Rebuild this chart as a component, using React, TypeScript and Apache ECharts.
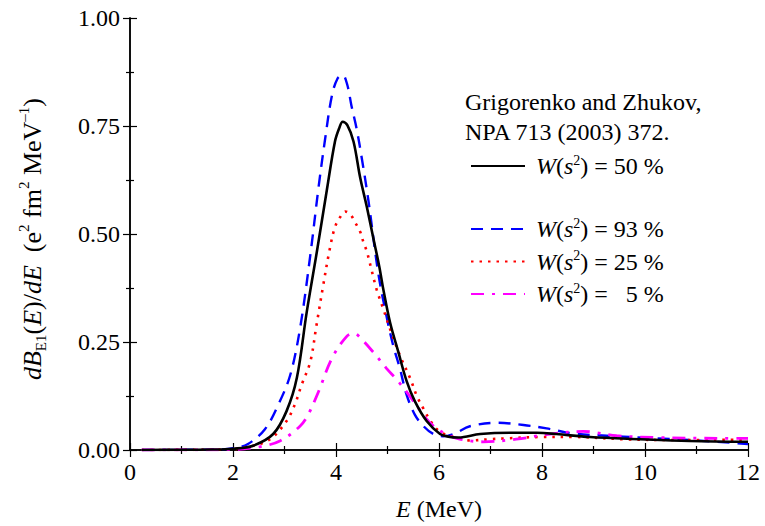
import React, { useEffect, useRef } from "react";
import * as echarts from "echarts";

// Energy (MeV), dB/dE values
const w50: [number, number][] = [
  [0.23, 0], [1.0, 0.0005], [1.6, 0.001], [2.0, 0.003], [2.39, 0.01], [2.78, 0.037], [3.04, 0.09],
  [3.24, 0.167], [3.43, 0.318], [3.63, 0.46], [3.82, 0.6], [3.98, 0.714], [4.06, 0.744], [4.13, 0.76],
  [4.22, 0.752], [4.34, 0.714], [4.47, 0.63], [4.6, 0.562], [4.72, 0.493], [4.84, 0.425], [4.92, 0.371],
  [5.05, 0.295], [5.21, 0.227], [5.37, 0.16], [5.53, 0.113], [5.76, 0.067], [6.02, 0.037], [6.18, 0.031],
  [6.38, 0.029], [6.8, 0.037], [7.44, 0.04], [7.9, 0.04], [8.28, 0.037], [8.93, 0.03], [9.9, 0.025],
  [10.87, 0.021], [12, 0.019],
];
const w93: [number, number][] = [
  [0.23, 0], [1.0, 0.0005], [1.6, 0.001], [2.0, 0.004], [2.29, 0.014], [2.62, 0.048], [2.88, 0.105],
  [3.11, 0.173], [3.3, 0.28], [3.5, 0.45], [3.66, 0.607], [3.79, 0.721], [3.92, 0.82], [4.03, 0.86],
  [4.13, 0.868], [4.22, 0.845], [4.3, 0.797], [4.4, 0.744], [4.5, 0.676], [4.63, 0.577], [4.82, 0.41],
  [4.98, 0.31], [5.11, 0.242], [5.24, 0.189], [5.37, 0.128], [5.53, 0.082], [5.7, 0.055], [5.89, 0.037],
  [6.08, 0.032], [6.3, 0.038], [6.6, 0.055], [7.12, 0.063], [7.64, 0.058], [8.09, 0.05], [8.61, 0.038],
  [9.26, 0.033], [10.23, 0.027], [11.0, 0.022], [12, 0.014],
];
const w25: [number, number][] = [
  [0.23, 0], [1.0, 0.0003], [1.8, 0.001], [2.33, 0.008], [2.72, 0.025], [3.04, 0.067], [3.2, 0.105],
  [3.33, 0.15], [3.5, 0.204], [3.62, 0.288], [3.75, 0.38], [3.88, 0.466], [3.98, 0.516], [4.08, 0.539],
  [4.18, 0.552], [4.28, 0.545], [4.37, 0.527], [4.47, 0.505], [4.53, 0.482], [4.6, 0.459], [4.69, 0.417],
  [4.79, 0.371], [4.92, 0.326], [5.05, 0.28], [5.24, 0.219], [5.44, 0.166], [5.57, 0.125], [5.7, 0.095],
  [5.83, 0.068], [5.96, 0.048], [6.1, 0.037], [6.34, 0.029], [6.6, 0.022], [6.99, 0.025], [7.31, 0.027],
  [7.96, 0.03], [8.61, 0.03], [9.58, 0.025], [10.55, 0.023], [12, 0.024],
];
const w5: [number, number][] = [
  [0.23, 0], [1.0, 0.0002], [2.0, 0.001], [2.52, 0.0075], [2.91, 0.021], [3.3, 0.055], [3.46, 0.082],
  [3.66, 0.135], [3.92, 0.212], [4.2, 0.262], [4.35, 0.27], [4.43, 0.265], [4.72, 0.227], [4.98, 0.189],
  [5.2, 0.16], [5.4, 0.13], [5.6, 0.097], [5.8, 0.066], [6.0, 0.046], [6.2, 0.033], [6.4, 0.025],
  [6.86, 0.019], [7.5, 0.025], [8.16, 0.037], [8.8, 0.043], [9.45, 0.033], [10.23, 0.029], [11.52, 0.027],
  [12, 0.027],
];

const seriesNames = ["50", "93", "25", "5"];
const seriesColors = ["#000000", "#0000ff", "#ff0000", "#ff00ff"];
const noteLines = ["Grigorenko and Zhukov,", "NPA 713 (2003) 372."];
const yTicks = [0, 0.25, 0.5, 0.75, 1.0];

const FONT = "Liberation Serif";

export default function App() {
  const ref = useRef<HTMLDivElement>(null);
  useEffect(() => {
    if (!ref.current) return;
    const chart = echarts.init(ref.current, null, { renderer: "svg" });
    const axisCommon = {
      axisLine: { show: true, lineStyle: { color: "#000", width: 1.5 } },
      axisTick: { show: true, inside: true, length: 7, lineStyle: { color: "#000", width: 1.2 } },
      minorTick: { show: true, splitNumber: 2, length: 4, lineStyle: { color: "#000", width: 1.2 } },
      splitLine: { show: false },
    };
    const richLabel = {
      i: { fontFamily: FONT, fontStyle: "italic", fontSize: 24, color: "#000", lineHeight: 26 },
      n: { fontFamily: FONT, fontSize: 24, color: "#000", lineHeight: 26 },
      sup: { fontFamily: FONT, fontSize: 14, color: "#000", lineHeight: 14, verticalAlign: "top" },
      g: { width: 12, lineHeight: 26 },
    };
    const legendFmt = (name: string) =>
      name === "5"
        ? "{i|W}{n|(}{i|s}{sup|2}{n|) =}{g|}{n| 5 %}"
        : `{i|W}{n|(}{i|s}{sup|2}{n|) = ${name} %}`;
    const data = [w50, w93, w25, w5];
    const dashes: any[] = ["solid", [12, 8], [2.5, 6], [13, 8, 3, 8]];
    const widths = [2.6, 2.4, 2.6, 2.8];
    chart.setOption({
      animation: false,
      textStyle: { fontFamily: FONT },
      grid: { left: 130, right: 17, top: 18, bottom: 70 },
      xAxis: [
        {
          type: "value", min: 0, max: 12, interval: 2, position: "bottom",
          ...axisCommon,
          axisLabel: { fontFamily: FONT, fontSize: 24, color: "#000", margin: 10 },
          name: "{i|E}{n| (MeV)}", nameLocation: "middle", nameGap: 46,
          nameTextStyle: { fontFamily: FONT, rich: richLabel },
        },
        {
          type: "value", min: 0, max: 12, interval: 2, position: "top",
          ...axisCommon, axisLabel: { show: false },
        },
      ],
      yAxis: [
        {
          type: "value", min: 0, max: 1, interval: 0.25, position: "left",
          ...axisCommon,
          axisLabel: {
            fontFamily: FONT, fontSize: 24, color: "#000", margin: 10,
            formatter: (v: number) => (yTicks.includes(v) ? v.toFixed(2) : ""),
          },
          name: "{ib|dB}{sub|E1}{nb|(}{ib|E}{nb|)/}{ib|dE}{nb|  (e}{sp|2}{nb| fm}{sp|2}{nb| MeV}{sp|–1}{nb|)}",
          nameLocation: "middle", nameGap: 82, nameRotate: 90,
          nameTextStyle: {
            fontFamily: FONT,
            padding: [0, 10, 0, 0],
            rich: {
              ib: { fontFamily: FONT, fontStyle: "italic", fontSize: 26, color: "#000", lineHeight: 32 },
              nb: { fontFamily: FONT, fontSize: 26, color: "#000", lineHeight: 32 },
              sp: { fontFamily: FONT, fontSize: 15, color: "#000", lineHeight: 16, verticalAlign: "top" },
              sub: { fontFamily: FONT, fontSize: 15, color: "#000", lineHeight: 14, verticalAlign: "bottom" },
            },
          },
        },
        {
          type: "value", min: 0, max: 1, interval: 0.25, position: "right",
          ...axisCommon, axisLabel: { show: false },
        },
      ],
      legend: [
        {
          data: [seriesNames[0]], left: 465, top: 148, orient: "vertical",
          itemWidth: 54, itemHeight: 24,
          formatter: legendFmt,
          textStyle: { fontFamily: FONT, padding: [0, 0, 0, 6], rich: richLabel },
          itemStyle: { opacity: 0 },
        },
        {
          data: seriesNames.slice(1), left: 465, top: 211, orient: "vertical",
          itemWidth: 54, itemHeight: 24, itemGap: 7.5,
          formatter: legendFmt,
          textStyle: { fontFamily: FONT, padding: [0, 0, 0, 6], rich: richLabel },
          itemStyle: { opacity: 0 },
        },
      ],
      graphic: noteLines.map((t, k) => ({
        type: "text", left: 465, top: 90 + k * 30,
        style: { text: t, fontFamily: FONT, fontSize: 24, fill: "#000" },
      })),
      series: data.map((d, k) => ({
        name: seriesNames[k],
        type: "line",
        data: d,
        symbol: "none",
        smooth: 0.35,
        z: k === 0 ? 5 : 3,
        lineStyle: { color: seriesColors[k], width: widths[k], type: dashes[k] },
        itemStyle: { color: seriesColors[k] },
      })),
    });
    return () => chart.dispose();
  }, []);
  return <div ref={ref} style={{ width: 765, height: 526, position: "absolute", left: 0, top: 0 }} />;
}
